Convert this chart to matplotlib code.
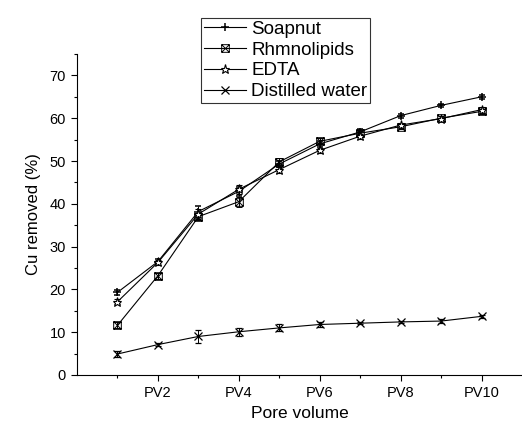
import numpy as np
import matplotlib
matplotlib.use('Agg')
import matplotlib.pyplot as plt
from matplotlib.path import Path

plt.rcParams['font.family'] = ['Liberation Sans', 'DejaVu Sans']

# pore volumes PV1..PV10
pv = [1, 2, 3, 4, 5, 6, 7, 8, 9, 10]
tick_pos = [2, 4, 6, 8, 10]
tick_labels = ['PV2', 'PV4', 'PV6', 'PV8', 'PV10']

soapnut = [19.3, 26.5, 38.2, 42.9, 49.3, 54.0, 56.8, 60.6, 63.0, 65.0]
soapnut_err = [0.6, 0.6, 1.2, 1.1, 0.8, 0.7, 0.7, 0.5, 0.4, 0.4]
rhamno = [11.6, 23.2, 37.0, 40.5, 49.8, 54.6, 56.5, 58.0, 60.0, 61.6]
rhamno_err = [0.7, 0.7, 0.8, 1.2, 0.8, 0.7, 0.8, 0.6, 0.5, 0.6]
edta = [17.1, 26.3, 37.6, 43.4, 48.0, 52.5, 55.8, 58.4, 59.9, 62.0]
edta_err = [0.6, 0.6, 1.2, 1.1, 0.7, 0.6, 0.6, 0.5, 0.5, 0.7]
water = [4.9, 7.1, 9.0, 10.1, 11.0, 11.8, 12.1, 12.4, 12.6, 13.7]
water_err = [0.8, 0.4, 1.5, 0.9, 0.8, 0.6, 0.3, 0.3, 0.5, 0.3]

# square with a cross inside
box_x = Path([(-1, -1), (1, -1), (1, 1), (-1, 1), (-1, -1),
              (-1, -1), (1, 1), (-1, 1), (1, -1)],
             [Path.MOVETO, Path.LINETO, Path.LINETO, Path.LINETO, Path.LINETO,
              Path.MOVETO, Path.LINETO, Path.MOVETO, Path.LINETO])

fig = plt.figure(figsize=(5.22, 4.24), dpi=100)
ax = fig.add_axes([0.1475, 0.1156, 0.8525, 0.757])

kw = dict(color='black', lw=0.8, capsize=2.5, elinewidth=0.7, capthick=0.7)
e1 = ax.errorbar(pv, soapnut, yerr=soapnut_err, marker='+', ms=5.5, mew=1.1,
                 label='Soapnut', **kw)
e2 = ax.errorbar(pv, rhamno, yerr=rhamno_err, marker=box_x, ms=5.5,
                 mfc='none', mew=0.7, label='Rhmnolipids', **kw)
e3 = ax.errorbar(pv, edta, yerr=edta_err, marker='*', ms=6.5, mfc='white',
                 mew=0.8, label='EDTA', **kw)
e4 = ax.errorbar(pv, water, yerr=water_err, marker='x', ms=5.5, mew=0.9,
                 label='Distilled water', **kw)

ax.set_xlim(0, 11)
ax.set_ylim(0, 75)
ax.set_xticks(tick_pos)
ax.set_xticklabels(tick_labels)
ax.set_xticks([1, 3, 5, 7, 9], minor=True)
ax.set_yticks(range(0, 71, 10))
ax.set_yticks(range(5, 76, 10), minor=True)
ax.tick_params(which='major', direction='out', length=4, width=0.8,
               labelsize=10.5, pad=4)
ax.tick_params(which='minor', direction='out', length=2.5, width=0.8)
ax.spines['top'].set_visible(False)
ax.spines['right'].set_visible(False)

ax.set_xlabel('Pore volume', fontsize=12.5, labelpad=4)
ax.set_ylabel('Cu removed (%)', fontsize=12, labelpad=6)

handles = [e[0] for e in (e1, e2, e3, e4)]
labels = ['Soapnut', 'Rhmnolipids', 'EDTA', 'Distilled water']
leg = ax.legend(handles, labels, loc='upper left',
                bbox_to_anchor=(0.386, 0.958),
                bbox_transform=fig.transFigure, fontsize=13.5, frameon=True,
                fancybox=False, edgecolor='black', handlelength=2.2,
                handletextpad=0.3, borderpad=0.15, labelspacing=0.2,
                borderaxespad=0)
leg.get_frame().set_linewidth(0.8)

fig.savefig('out.png', dpi=100)
